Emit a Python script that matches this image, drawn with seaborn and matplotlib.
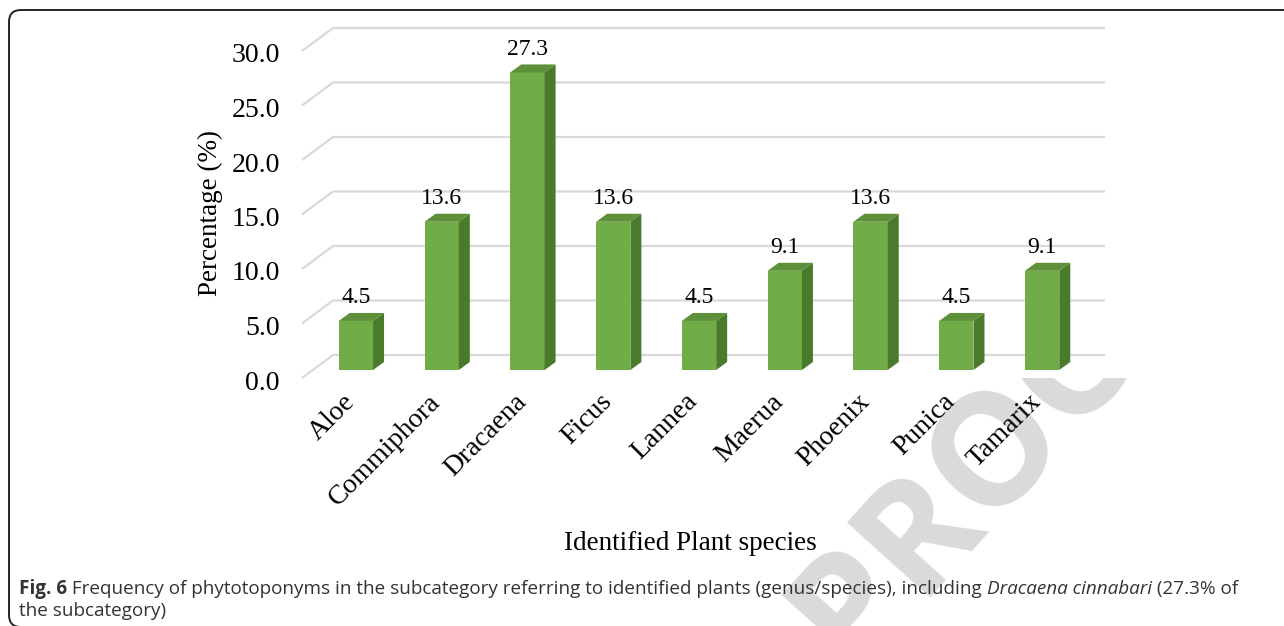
import matplotlib
matplotlib.use("Agg")
import matplotlib.pyplot as plt
from matplotlib.patches import Polygon, FancyBboxPatch, Rectangle
from matplotlib.transforms import ScaledTranslation
import seaborn as sns
import pandas as pd

# ---- data -------------------------------------------------------------
species = ["Aloe", "Commiphora", "Dracaena", "Ficus", "Lannea",
           "Maerua", "Phoenix", "Punica", "Tamarix"]
percent = [4.5, 13.6, 27.3, 13.6, 4.5, 9.1, 13.6, 4.5, 9.1]
y_ticks = [0, 5, 10, 15, 20, 25, 30]
y_tick_labels = [f"{v:.1f}" for v in y_ticks]

x_title = "Identified Plant species"
y_title = "Percentage (%)"
caption_bold = "Fig. 6"
caption_main = (" Frequency of phytotoponyms in the subcategory referring to "
                "identified plants (genus/species), including ")
caption_italic = "Dracaena cinnabari"
caption_tail = " (27.3% of"
caption_line2 = "the subcategory)"

# ---- style ------------------------------------------------------------
FRONT = "#70ad47"
TOP = "#5d9039"
SIDE = "#4a7a2b"
GRID = "#d9d9d9"
INK = "#000000"
CAPTION_INK = "#333333"

sns.set_theme(style="white")
plt.rcParams["font.family"] = ["Liberation Serif", "DejaVu Serif"]

W, H, DPI = 1284, 626, 100
fig = plt.figure(figsize=(W / DPI, H / DPI), dpi=DPI)
fig.patch.set_facecolor("white")


def px_rect(x0, y_top, x1, y_bottom):
    """Figure-fraction rectangle from pixel edges measured from the top-left."""
    return [x0 / W, 1 - y_bottom / H, (x1 - x0) / W, (y_bottom - y_top) / H]


# plane through the bar fronts
ax = fig.add_axes(px_rect(313, 43, 1085, 370))
ax.set_facecolor("none")

df = pd.DataFrame({"species": species, "percent": percent})
sns.barplot(data=df, x="species", y="percent", color=FRONT, saturation=1,
            width=0.4, errorbar=None, linewidth=0, ax=ax, zorder=3)
ax.set_xlim(-0.5, len(species) - 0.5)
ax.set_ylim(y_ticks[0], y_ticks[-1])

# depth offsets in pixels (x right, y up)
BAR_DEPTH = (11, 8)
FRONT_OFF = (-11, -8)
BACK_OFF = (20, 15)


def shifted(x, y, dx, dy):
    px, py = ax.transData.transform((x, y))
    return tuple(ax.transData.inverted().transform((px + dx, py + dy)))


# 3-D faces for each bar
for bar in list(ax.patches):
    x0, w, h = bar.get_x(), bar.get_width(), bar.get_height()
    side = Polygon([(x0 + w, 0), (x0 + w, h),
                    shifted(x0 + w, h, *BAR_DEPTH), shifted(x0 + w, 0, *BAR_DEPTH)],
                   closed=True, fc=SIDE, lw=0, zorder=3, clip_on=False)
    top = Polygon([(x0, h), (x0 + w, h),
                   shifted(x0 + w, h, *BAR_DEPTH), shifted(x0, h, *BAR_DEPTH)],
                  closed=True, fc=TOP, lw=0, zorder=3, clip_on=False)
    ax.add_patch(side)
    ax.add_patch(top)
    ax.annotate(f"{h:.1f}", (x0 + w / 2, h), xytext=(0, 23 * 0.72),
                textcoords="offset points", ha="center", va="center",
                fontsize=17, color=INK, zorder=4, annotation_clip=False)

# gridlines on the side wall and back wall
x_lo, x_hi = ax.get_xlim()
for v in y_ticks:
    pts = [shifted(x_lo, v, *FRONT_OFF), shifted(x_lo, v, *BACK_OFF),
           shifted(x_hi, v, *BACK_OFF)]
    ax.plot([p[0] for p in pts], [p[1] for p in pts], color=GRID, lw=1.6,
            zorder=1, clip_on=False, solid_capstyle="butt")

# axes decoration
sns.despine(ax=ax, left=True, bottom=True)
ax.grid(False)
ax.tick_params(length=0)
ax.set_yticks(y_ticks)
ax.set_yticklabels(y_tick_labels, fontsize=20, color=INK)
ax.tick_params(axis="y", pad=33 * 0.72)
for lab in ax.get_yticklabels():
    lab.set_transform(lab.get_transform()
                      + ScaledTranslation(0, -0.10, fig.dpi_scale_trans))

ax.set_xticks(range(len(species)))
ax.set_xticklabels(species, rotation=45, ha="right", va="center",
                   rotation_mode="anchor", fontsize=20, color=INK)
ax.tick_params(axis="x", pad=28 * 0.72)
for lab in ax.get_xticklabels():
    lab.set_transform(lab.get_transform()
                      + ScaledTranslation(-0.05, 0, fig.dpi_scale_trans))

ax.set_xlabel(x_title, fontsize=19.5, color=INK)
ax.xaxis.set_label_coords((690 - 313) / 772, (370 - 543) / 327)
ax.xaxis.label.set_verticalalignment("center")
ax.set_ylabel(y_title, fontsize=19.5, color=INK)
ax.yaxis.set_label_coords((210 - 313) / 772, (370 - 213) / 327)
ax.yaxis.label.set_verticalalignment("center")

# watermark behind the figure, hidden by the white plot area
fig.text(1000 / W, 1 - 445 / H, "PROOF", rotation=48, fontsize=112,
         fontweight="bold", family="Open Sans", color="#dadada",
         ha="center", va="center", zorder=-2)
fig.add_artist(Rectangle((290 / W, 1 - 378 / H), 1 - 290 / W, (378 - 15) / H,
                         transform=fig.transFigure, fc="white", ec="none",
                         zorder=-1))

# frame around figure and caption
fig.add_artist(FancyBboxPatch((0.09, -0.01), 13.0, 6.17,
                              boxstyle="round,pad=0,rounding_size=0.12",
                              transform=fig.dpi_scale_trans, fill=False,
                              ec="#222222", lw=1.4, zorder=1))

# caption, built piece by piece
renderer = fig.canvas.get_renderer()
cap_size = 12.0
cap_family = ["Open Sans", "DejaVu Sans"]
pieces = [(caption_bold, "bold", "normal"), (caption_main, "normal", "normal"),
          (caption_italic, "normal", "italic"), (caption_tail, "normal", "normal")]


def draw_line(x_px, base_px, size):
    texts = []
    x = x_px
    for s, weight, style in pieces:
        t = fig.text(x / W, 1 - base_px / H, s, fontsize=size, fontweight=weight,
                     fontstyle=style, family=cap_family, color=CAPTION_INK,
                     ha="left", va="baseline")
        bb = t.get_window_extent(renderer)
        x = bb.x1
        texts.append(t)
    return texts, x - x_px


texts, width = draw_line(19, 594, cap_size)
for t in texts:
    t.remove()
cap_size *= 1213 / width
draw_line(19, 594, cap_size)
fig.text(19 / W, 1 - 616 / H, caption_line2, fontsize=cap_size,
         family=cap_family, color=CAPTION_INK, ha="left", va="baseline")

fig.savefig("out.png", dpi=DPI, facecolor="white")
